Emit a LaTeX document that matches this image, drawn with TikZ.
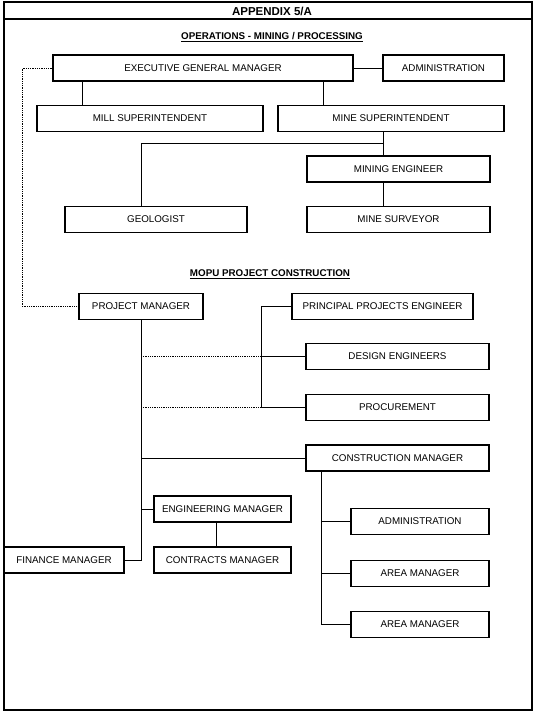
\documentclass[tikz,border=0pt]{standalone}
\usepackage{fontspec}
\setmainfont{Liberation Sans}
\usetikzlibrary{shapes}
\tikzstyle{post} = [rectangle, minimum height=26pt, text centered, draw=black, line width=1.6pt, font=\fontsize{9.8}{11}\selectfont]
\tikzstyle{heading} = [font=\bfseries\fontsize{9.8}{11}\selectfont]
\tikzstyle{link} = [line width=0.8pt]
\tikzstyle{dotlink} = [line width=0.8pt, densely dotted]

\begin{document}
\begin{tikzpicture}[x=1pt, y=-1pt]
    \useasboundingbox (0,0) rectangle (534,714);
    % Frame
    \draw [line width=1.4pt] (4,2) rectangle (532,710);
    \draw [line width=1.4pt] (4,19) -- (532,19);

    % Titles
    \node (appendix) [heading, font=\bfseries\fontsize{11.5}{13}\selectfont] at (272,11) {APPENDIX 5/A};
    \node (ops) [heading] at (272,37) {\underline{OPERATIONS - MINING / PROCESSING}};
    \node (mopu) [heading] at (270,274) {\underline{MOPU PROJECT CONSTRUCTION}};

    % Nodes
    \node (egm) [post, minimum width=300pt] at (203,68) {EXECUTIVE GENERAL MANAGER};
    \node (admin) [post, minimum width=121pt] at (443.5,68) {ADMINISTRATION};
    \node (mill) [post, minimum width=226pt] at (150,118.5) {MILL SUPERINTENDENT};
    \node (minesup) [post, minimum width=226pt] at (391,118.5) {MINE SUPERINTENDENT};
    \node (mineng) [post, minimum width=183pt] at (398.5,169) {MINING ENGINEER};
    \node (geo) [post, minimum width=182pt] at (156,219.5) {GEOLOGIST};
    \node (survey) [post, minimum width=183pt] at (398.5,219.5) {MINE SURVEYOR};

    \node (pm) [post, minimum width=124pt] at (141,306.5) {PROJECT MANAGER};
    \node (ppe) [post, minimum width=181pt] at (382.5,306.5) {PRINCIPAL PROJECTS ENGINEER};
    \node (design) [post, minimum width=183pt] at (397.5,356.5) {DESIGN ENGINEERS};
    \node (proc) [post, minimum width=183pt] at (397.5,407.5) {PROCUREMENT};
    \node (cm) [post, minimum width=183pt] at (397.5,458) {CONSTRUCTION MANAGER};
    \node (em) [post, minimum width=137pt] at (222.5,509) {ENGINEERING MANAGER};
    \node (contracts) [post, minimum width=137pt] at (222.5,560) {CONTRACTS MANAGER};
    \node (finance) [post, minimum width=120pt] at (64,560) {FINANCE MANAGER};
    \node (admin2) [post, minimum width=138pt] at (420,521.5) {ADMINISTRATION};
    \node (area1) [post, minimum width=138pt] at (420,573.5) {AREA MANAGER};
    \node (area2) [post, minimum width=138pt] at (420,624.5) {AREA MANAGER};

    % Joins
    \coordinate (millx) at (82,0);
    \coordinate (minex) at (323,0);
    \coordinate (opsjoin) at (383,143);
    \coordinate (geox) at (141,0);
    \coordinate (ppejoin) at (261,0);
    \coordinate (cmjoin) at (321,0);

    % Lines
    \draw [link] (egm.east) -- (admin.west);
    \draw [link] (egm.south -| millx) -- (mill.north -| millx);
    \draw [link] (egm.south -| minex) -- (minesup.north -| minex);
    \draw [link] (minesup.south -| opsjoin) -- (mineng.north -| opsjoin);
    \draw [link] (opsjoin) -| (geo.north -| geox);
    \draw [link] (mineng.south -| opsjoin) -- (survey.north -| opsjoin);
    \draw [dotlink] (egm.west) -- ++(-30,0) |- (pm.west);

    \draw [link] (ppe.west) -| (ppejoin |- proc.west) -- (proc.west);
    \draw [link] (ppejoin |- design.west) -- (design.west);
    \draw [dotlink] (pm.south |- design.west) -- (ppejoin |- design.west);
    \draw [dotlink] (pm.south |- proc.west) -- (ppejoin |- proc.west);
    \draw [link] (pm.south) |- (finance.east);
    \draw [link] (pm.south |- cm.west) -- (cm.west);
    \draw [link] (pm.south |- em.west) -- (em.west);
    \draw [link] ([xshift=-6pt]em.south) -- ([xshift=-6pt]contracts.north);
    \draw [link] (cm.south -| cmjoin) |- (area2.west);
    \draw [link] (cmjoin |- admin2.west) -- (admin2.west);
    \draw [link] (cmjoin |- area1.west) -- (area1.west);

\end{tikzpicture}
\end{document}
